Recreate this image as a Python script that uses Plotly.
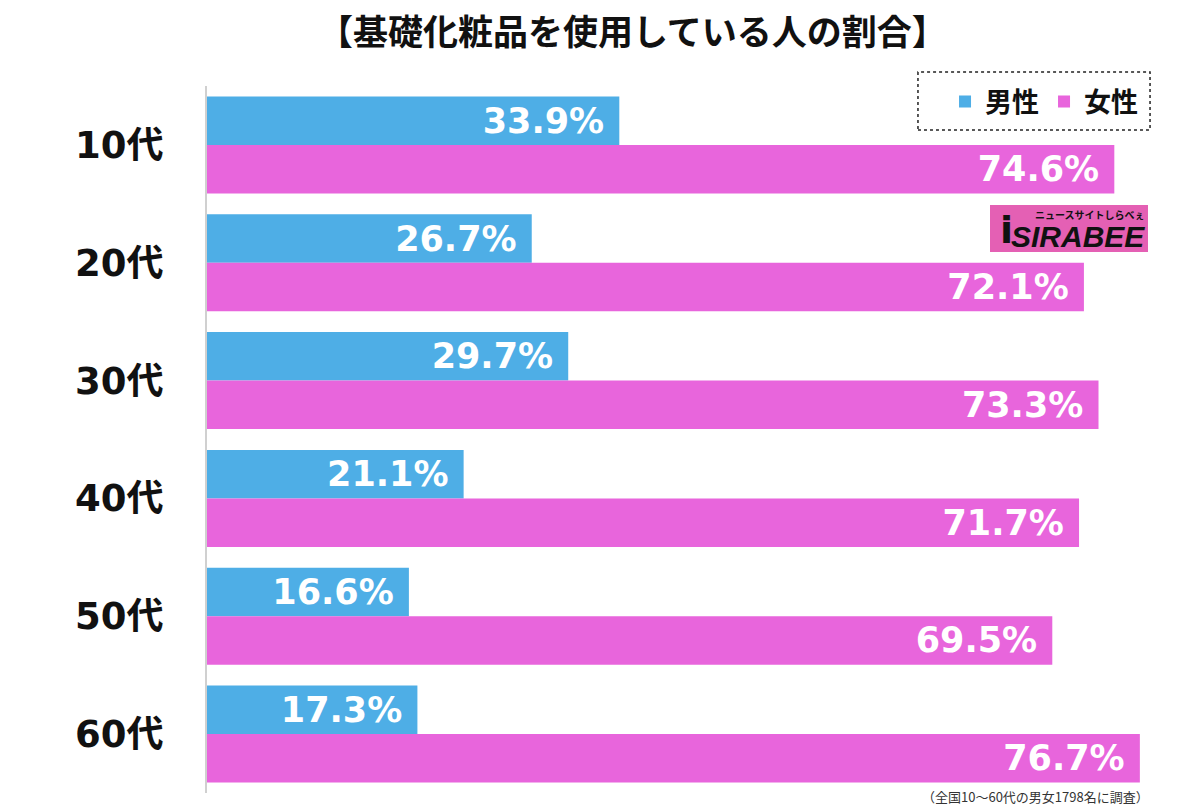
import plotly.graph_objects as go

categories = ["10代", "20代", "30代", "40代", "50代", "60代"]
male = [33.9, 26.7, 29.7, 21.1, 16.6, 17.3]
female = [74.6, 72.1, 73.3, 71.7, 69.5, 76.7]
series_names = ["男性", "女性"]
colors = ["#4eaee6", "#e865dc"]

title_text = "【基礎化粧品を使用している人の割合】"
note_text = "（全国10～60代の男女1798名に調査）"

LBL_FONT = "DejaVu Sans, Noto Sans CJK JP, sans-serif"
CJK_FONT = "Noto Sans CJK JP, DejaVu Sans, sans-serif"

fig = go.Figure()
for name, vals, col in zip(series_names, [male, female], colors):
    fig.add_trace(go.Bar(
        y=categories, x=vals, name=name, orientation="h",
        marker=dict(color=col, line=dict(width=0)),
        texttemplate="%{x:.1f}%\u00a0", textposition="inside",
        insidetextanchor="end",
        textfont=dict(family=LBL_FONT, size=35, color="white", weight="bold"),
        cliponaxis=False,
    ))

fig.update_layout(
    width=1200, height=810,
    paper_bgcolor="white", plot_bgcolor="white",
    margin=dict(l=207, r=20, t=86, b=17, autoexpand=False),
    barmode="group", bargap=0.177, bargroupgap=0,
    showlegend=True,
    legend=dict(orientation="h", xanchor="right", yanchor="top",
                x=0.962, y=1.012, bgcolor="rgba(255,255,255,0)",
                font=dict(family=CJK_FONT, size=27, color="#111", weight="bold"),
                itemwidth=30, tracegroupgap=0, itemclick=False),
    title=dict(text=title_text, x=0.527, xanchor="center", xref="container",
               y=0.959, yanchor="middle", yref="container",
               font=dict(family=CJK_FONT, size=35, color="#111", weight="bold")),
    xaxis=dict(range=[0, 80], showticklabels=False, showgrid=False,
               zeroline=False, showline=False, fixedrange=True, automargin=False),
    yaxis=dict(autorange="reversed", showgrid=False, zeroline=False,
               showline=True, linecolor="#d0d0d0", linewidth=2,
               ticks="", ticklabelstandoff=34, automargin=False,
               tickfont=dict(family=LBL_FONT, size=37, color="#111", weight="bold")),
    shapes=[
        dict(type="rect", xref="paper", yref="paper",
             x0=0.7307, x1=0.9692, y0=0.9378, y1=1.0198,
             line=dict(color="#222", width=1.5, dash="dot"), fillcolor="rgba(0,0,0,0)"),
        dict(type="rect", xref="paper", yref="paper",
             x0=(990 - 207) / 973, x1=(1148 - 207) / 973,
             y0=(793 - 252) / 707, y1=(793 - 205) / 707,
             line=dict(width=0), fillcolor="#e460b4"),
    ],
    annotations=[
        dict(text="<i><b>SIRABEE</b></i>", xref="paper", yref="paper",
             x=(1147 - 207) / 973, y=(793 - 236) / 707, xanchor="right", yanchor="middle",
             showarrow=False, font=dict(family="Liberation Sans, Arial, sans-serif", size=30, color="#111")),
        dict(text="<b>i</b>", xref="paper", yref="paper",
             x=(1006 - 207) / 973, y=(793 - 230) / 707, xanchor="center", yanchor="middle",
             showarrow=False, font=dict(family="DejaVu Sans, sans-serif", size=38, color="#111")),
        dict(text="ニュースサイトしらべぇ", xref="paper", yref="paper",
             x=(1147 - 207) / 973, y=(793 - 214) / 707, xanchor="right", yanchor="middle",
             showarrow=False, font=dict(family=CJK_FONT, size=10, color="#111", weight="bold")),
        dict(text=note_text, xref="paper", yref="paper",
             x=(1151 - 207) / 973, y=(793 - 796) / 707, xanchor="right", yanchor="middle",
             showarrow=False, font=dict(family=CJK_FONT, size=13, color="#333")),
    ],
)

fig.write_html("out.html", config={"displayModeBar": False},
               post_script="document.body.style.margin='0';document.body.style.overflow='hidden';")
